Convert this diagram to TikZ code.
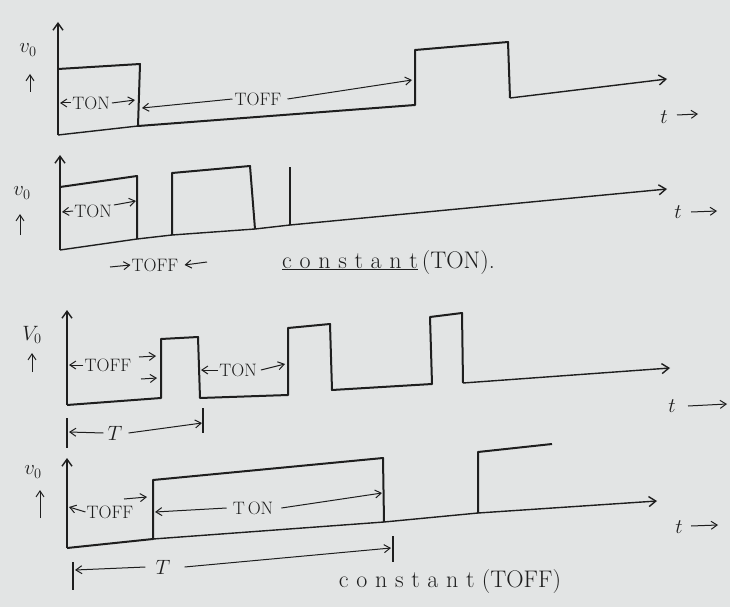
\documentclass[tikz,border=0pt]{standalone}
\usetikzlibrary{arrows.meta}
\definecolor{paper}{RGB}{226,228,228}
\definecolor{ink}{RGB}{30,30,30}
\newcommand\myspc{\hspace{0.32em}}
\newcommand\constword{c\myspc o\myspc n\myspc s\myspc t\myspc a\myspc n\myspc t}
\begin{document}
\begin{tikzpicture}[x=1pt,y=-1pt,
  wave/.style={draw=ink,line width=2pt,line join=round},
  base/.style={draw=ink,line width=1.4pt},
  axisarrow/.style={draw=ink,line width=1.4pt,-{Straight Barb[length=7pt,width=10pt]}},
  dimarrow/.style={draw=ink,line width=1pt,-{Straight Barb[length=6pt,width=8pt]}},
  tick/.style={draw=ink,line width=1.2pt},
  lbl/.style={text=ink,font=\fontsize{21}{24}\selectfont,inner sep=0pt},
  small/.style={text=ink,font=\fontsize{18}{21}\selectfont,inner sep=0pt},
  bigtxt/.style={text=ink,font=\fontsize{24}{27}\selectfont,inner sep=0pt}]
\useasboundingbox[fill=paper] (0,0) rectangle (730,607);

% ---------------- Panel 1 ----------------
\draw[axisarrow] (58,135) -- (58,22);
\node[lbl] (v1) at (28,50) {$v_0$};
\draw[dimarrow] (30,92) -- (30,74);
\draw[base] (58,135) -- (138,126);
\draw[wave] (58,69) -- (140,64) -- (138,126) -- (415,105) -- (415,50) -- (508,42) -- (510,98);
\draw[axisarrow] (510,98) -- (667,79);
\node[small] (ton1) at (91,103) {TON};
\draw[dimarrow] ([xshift=-1pt]ton1.west) -- (60,103);
\draw[dimarrow] ([xshift=2pt]ton1.east) -- (135,100);
\node[small] (toff1) at (258,99) {TOFF};
\draw[dimarrow] ([xshift=-2pt]toff1.west) -- (142,108);
\draw[dimarrow] ([xshift=6pt]toff1.east) -- (412,80);
\node[lbl] (t1) at (664,117) {$t$};
\draw[dimarrow] (677,115) -- (698,114);

% ---------------- Panel 2 ----------------
\draw[axisarrow] (60,250) -- (60,155);
\node[lbl] (v2) at (22,193) {$v_0$};
\draw[dimarrow] (20,235) -- (20,214);
\draw[base] (60,250) -- (137,239) -- (172,235) -- (255,229) -- (290,225);
\draw[axisarrow] (290,225) -- (667,189);
\draw[wave] (60,187) -- (137,176) -- (137,239);
\draw[wave] (172,235) -- (172,173) -- (250,166) -- (255,229);
\draw[wave] (290,225) -- (290,167);
\node[small] (ton2) at (93,211) {TON};
\draw[dimarrow] ([xshift=-1pt]ton2.west) -- (62,212);
\draw[dimarrow] ([xshift=2pt,yshift=6pt]ton2.east) -- (136,201);
\node[small] (toff2) at (155,265) {TOFF};
\draw[dimarrow] (110,267) -- ([xshift=-1pt]toff2.west);
\draw[dimarrow] (207,262) -- ([xshift=6pt]toff2.east);
\node[bigtxt,anchor=base west] (c1) at (282,268) {\underline{\constword}\,(TON).};
\node[lbl] (t2) at (678,212) {$t$};
\draw[dimarrow] (691,212) -- (717,211);

% ---------------- Panel 3 ----------------
\draw[axisarrow] (67,405) -- (67,310);
\node[lbl] (v3) at (32,335) {$V_0$};
\draw[dimarrow] (32,372) -- (32,353);
\draw[wave] (67,405) -- (161,398) -- (161,339) -- (198,337) -- (200,398) -- (288,395) -- (288,328) -- (330,324) -- (332,390) -- (432,384) -- (430,317) -- (462,313) -- (463,383);
\draw[axisarrow] (463,383) -- (670,368);
\node[small] (toff3) at (108,365) {TOFF};
\draw[dimarrow] ([xshift=-1pt]toff3.west) -- (69,365);
\draw[dimarrow] (139,357) -- (156,356);
\draw[dimarrow] (141,379) -- (157,378);
\node[small] (ton3) at (238,370) {TON};
\draw[dimarrow] ([xshift=-1pt]ton3.west) -- (201,370);
\draw[dimarrow] ([xshift=4pt]ton3.east) -- (285,364);
\draw[tick] (67,418) -- (67,448);
\node[lbl] (T3) at (115,433) {$T$};
\draw[dimarrow] ([xshift=-4pt]T3.west) -- (69,432);
\draw[dimarrow] ([xshift=6pt]T3.east) -- (202,423);
\draw[tick] (203,408) -- (203,433);
\node[lbl] (t3) at (672,406) {$t$};
\draw[dimarrow] (688,406) -- (727,404);

% ---------------- Panel 4 ----------------
\draw[axisarrow] (67,548) -- (67,458);
\node[lbl] (v4) at (33,472) {$v_0$};
\draw[dimarrow] (40,518) -- (40,490);
\draw[base] (153,539) -- (384,522) -- (478,513);
\draw[axisarrow] (478,513) -- (657,501);
\draw[wave] (67,548) -- (153,539) -- (153,480) -- (383,458) -- (384,522);
\draw[wave] (478,513) -- (478,452) -- (552,444);
\node[small] (toff4) at (110,512) {TOFF};
\draw[dimarrow] ([xshift=-1pt]toff4.west) -- (69,507);
\draw[dimarrow] (124,499) -- (147,497);
\node[small] (ton4) at (253,508) {T\,ON};
\draw[dimarrow] ([xshift=-6pt]ton4.west) -- (155,512);
\draw[dimarrow] ([xshift=8pt]ton4.east) -- (382,493);
\draw[tick] (73,562) -- (73,590);
\node[lbl] (T4) at (163,567) {$T$};
\draw[dimarrow] ([xshift=-10pt]T4.west) -- (75,570);
\draw[dimarrow] ([xshift=14pt]T4.east) -- (391,548);
\draw[tick] (393,536) -- (393,562);
\node[bigtxt] (c2) at (450,582) {\constword\ (TOFF)};
\node[lbl] (t4) at (679,527) {$t$};
\draw[dimarrow] (691,526) -- (718,525);
\end{tikzpicture}
\end{document}
